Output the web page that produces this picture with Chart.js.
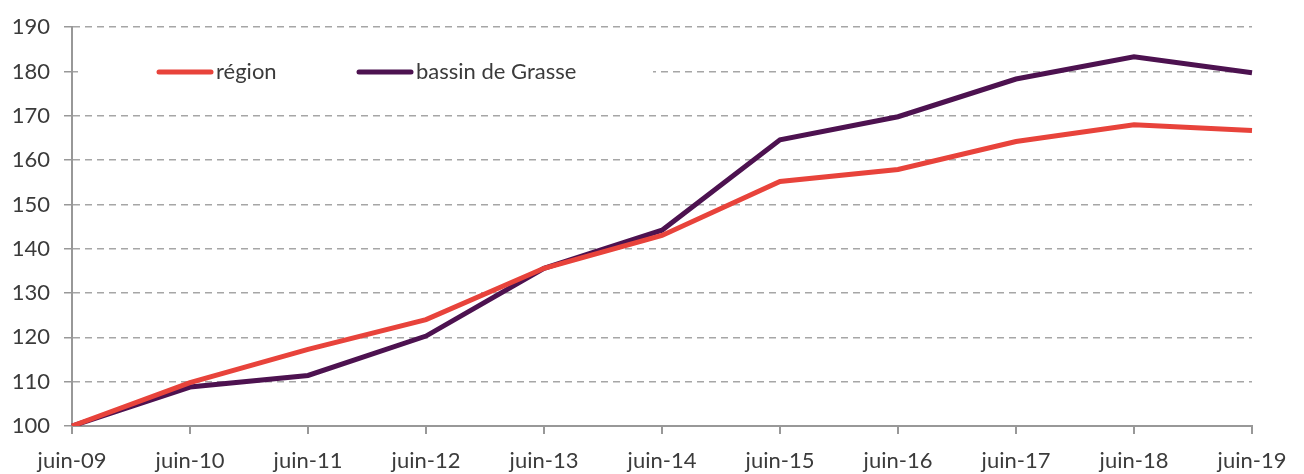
<!DOCTYPE html>
<html>
<head>
<meta charset="utf-8">
<script src="https://cdn.jsdelivr.net/npm/chart.js@4.4.1/dist/chart.umd.min.js"></script>
<style>
    html, body { margin: 0; padding: 0; background: #fff; }
    #wrap { width: 1304px; height: 474px; }
</style>
</head>
<body>
<div id="wrap"><canvas id="indexChart"></canvas></div>
<script>
var labels = ['juin-09', 'juin-10', 'juin-11', 'juin-12', 'juin-13', 'juin-14', 'juin-15', 'juin-16', 'juin-17', 'juin-18', 'juin-19'];
var regionValues = [100, 109.8, 117.3, 124.0, 135.6, 143.0, 155.2, 157.9, 164.2, 168.0, 166.7];
var grasseValues = [100, 108.8, 111.4, 120.3, 135.6, 144.2, 164.6, 169.8, 178.3, 183.3, 179.7];
var yMin = 100, yMax = 190, yStep = 10;

var textColor = '#3b3b3b';
var axisColor = '#989898';
var fontFamily = 'Lato, "Open Sans", sans-serif';

// legend drawn inside the plot, on a white patch like the original
var innerLegend = {
    id: 'innerLegend',
    beforeDatasetsDraw: function (chart) {
        var ctx = chart.ctx;
        var area = chart.chartArea;
        ctx.save();
        ctx.fillStyle = '#fff';
        ctx.fillRect(area.left + 6, area.top + 30, 575, 30);
        var starts = [157, 357];
        var y = 72;
        chart.data.datasets.forEach(function (ds, i) {
            var x = starts[i];
            ctx.strokeStyle = ds.borderColor;
            ctx.lineWidth = 5;
            ctx.lineCap = 'round';
            ctx.beginPath();
            ctx.moveTo(x + 2, y);
            ctx.lineTo(x + 54, y);
            ctx.stroke();
            ctx.fillStyle = textColor;
            ctx.font = '22px ' + fontFamily;
            ctx.textBaseline = 'middle';
            ctx.textAlign = 'left';
            ctx.fillText(ds.label, x + 59, y);
        });
        ctx.restore();
    }
};

document.addEventListener('DOMContentLoaded', function () {
    var ctx = document.getElementById('indexChart').getContext('2d');
    var indexChart = new Chart(ctx, {
        type: 'line',
        data: {
            labels: labels,
            datasets: [
                {
                    label: 'région',
                    borderColor: '#e8433b',
                    backgroundColor: '#e8433b',
                    borderWidth: 5,
                    pointRadius: 0,
                    tension: 0,
                    data: regionValues
                },
                {
                    label: 'bassin de Grasse',
                    borderColor: '#4d1250',
                    backgroundColor: '#4d1250',
                    borderWidth: 5,
                    pointRadius: 0,
                    tension: 0,
                    data: grasseValues
                }
            ]
        },
        options: {
            responsive: true,
            maintainAspectRatio: false,
            animation: false,
            layout: {
                padding: { top: 20, right: 52, left: 0, bottom: 0 }
            },
            scales: {
                x: {
                    offset: false,
                    afterFit: function (scale) { scale.height = 48; },
                    border: { color: axisColor, width: 2 },
                    grid: {
                        drawOnChartArea: false,
                        drawTicks: true,
                        tickLength: 8,
                        color: axisColor,
                        lineWidth: 2
                    },
                    ticks: {
                        autoSkip: false,
                        maxRotation: 0,
                        padding: 14,
                        color: textColor,
                        font: { family: fontFamily, size: 22 }
                    }
                },
                y: {
                    min: yMin,
                    max: yMax,
                    afterFit: function (scale) { scale.width = 72; },
                    border: { color: axisColor, width: 2, dash: [7, 5] },
                    grid: {
                        color: '#a6a6a6',
                        lineWidth: 1.5,
                        tickBorderDash: [],
                        tickColor: axisColor,
                        tickLength: 8
                    },
                    ticks: {
                        stepSize: yStep,
                        padding: 14,
                        color: textColor,
                        font: { family: fontFamily, size: 22 }
                    }
                }
            },
            plugins: {
                legend: { display: false },
                tooltip: { enabled: false }
            }
        },
        plugins: [innerLegend]
    });
});
</script>
</body>
</html>
